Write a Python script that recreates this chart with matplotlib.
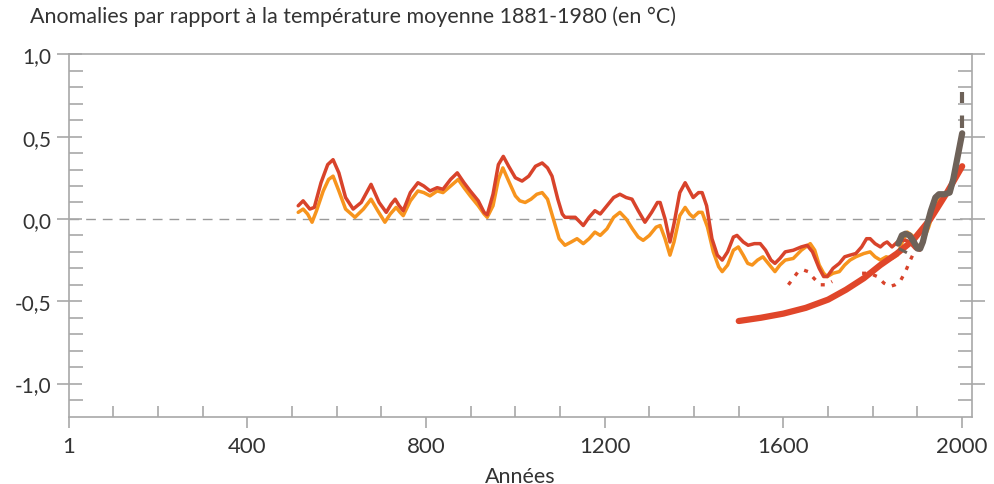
import matplotlib
matplotlib.use("Agg")
import matplotlib.pyplot as plt
import numpy as np

# ---- data (years, anomalies in °C) ----
red_years = [514, 525, 540, 550, 565, 580, 592, 605, 620, 637, 655, 677, 695, 711, 722, 731, 740, 749,
             765, 782, 795, 809, 825, 838, 855, 870, 885, 899, 917, 930, 937, 950, 962, 973, 985, 1000,
             1015, 1030, 1045, 1060, 1072, 1082, 1095, 1105, 1111, 1122, 1134, 1145, 1152, 1165, 1178,
             1190, 1205, 1220, 1234, 1248, 1261, 1275, 1290, 1305, 1318, 1324, 1335, 1346, 1355, 1368,
             1380, 1390, 1398, 1410, 1418, 1428, 1440, 1452, 1463, 1475, 1488, 1496, 1510, 1521, 1535,
             1548, 1560, 1572, 1581, 1592, 1604, 1622, 1640, 1653, 1665, 1680, 1690, 1698, 1711, 1725,
             1737, 1749, 1762, 1775, 1786, 1794, 1805, 1817, 1825, 1832, 1843, 1855, 1866, 1875, 1885,
             1895, 1905]
red_vals = [0.08, 0.11, 0.06, 0.07, 0.22, 0.33, 0.36, 0.28, 0.13, 0.06, 0.10, 0.21, 0.10, 0.04, 0.09, 0.12,
            0.08, 0.05, 0.16, 0.22, 0.20, 0.17, 0.19, 0.18, 0.24, 0.28, 0.22, 0.17, 0.11, 0.04, 0.025, 0.15,
            0.33, 0.38, 0.32, 0.25, 0.23, 0.26, 0.32, 0.34, 0.31, 0.26, 0.12, 0.03, 0.01, 0.01, 0.01, -0.02,
            -0.04, 0.01, 0.05, 0.03, 0.08, 0.13, 0.15, 0.13, 0.12, 0.05, -0.02, 0.04, 0.10, 0.10, 0.00,
            -0.14, -0.03, 0.16, 0.22, 0.17, 0.13, 0.16, 0.16, 0.08, -0.12, -0.22, -0.25, -0.20, -0.11,
            -0.10, -0.14, -0.16, -0.15, -0.15, -0.19, -0.25, -0.27, -0.24, -0.20, -0.19, -0.17, -0.16,
            -0.20, -0.30, -0.35, -0.35, -0.30, -0.27, -0.23, -0.22, -0.21, -0.17, -0.12, -0.12, -0.15,
            -0.17, -0.15, -0.14, -0.17, -0.14, -0.13, -0.13, -0.15, -0.18, -0.19]

orange_years = [514, 525, 535, 545, 555, 570, 582, 592, 605, 620, 641, 660, 677, 692, 708, 720, 733, 742,
                749, 765, 782, 795, 809, 825, 838, 855, 872, 885, 899, 917, 930, 937, 950, 962, 972, 985,
                1000, 1010, 1022, 1035, 1048, 1060, 1072, 1085, 1098, 1111, 1125, 1138, 1152, 1165, 1178,
                1190, 1205, 1220, 1234, 1248, 1262, 1275, 1286, 1300, 1315, 1324, 1335, 1346, 1355, 1368,
                1380, 1390, 1398, 1410, 1418, 1430, 1443, 1455, 1463, 1475, 1488, 1499, 1510, 1520, 1530,
                1542, 1554, 1566, 1581, 1592, 1604, 1622, 1640, 1660, 1670, 1680, 1690, 1698, 1711, 1725,
                1737, 1749, 1762, 1780, 1794, 1805, 1817, 1830, 1843, 1855, 1866, 1877, 1888, 1897, 1910,
                1925, 1940, 1950]
orange_vals = [0.04, 0.06, 0.03, -0.02, 0.05, 0.17, 0.24, 0.26, 0.17, 0.06, 0.01, 0.06, 0.12, 0.05, -0.02,
               0.03, 0.07, 0.04, 0.02, 0.11, 0.17, 0.16, 0.14, 0.17, 0.16, 0.20, 0.24, 0.19, 0.14, 0.08,
               0.03, 0.01, 0.08, 0.24, 0.31, 0.23, 0.14, 0.11, 0.10, 0.12, 0.15, 0.16, 0.12, 0.00, -0.12,
               -0.16, -0.14, -0.12, -0.15, -0.12, -0.08, -0.10, -0.06, 0.01, 0.04, 0.00, -0.06, -0.11,
               -0.13, -0.10, -0.05, -0.04, -0.12, -0.22, -0.14, 0.02, 0.07, 0.03, 0.01, 0.04, 0.04, -0.05,
               -0.20, -0.29, -0.32, -0.28, -0.19, -0.17, -0.22, -0.27, -0.28, -0.25, -0.23, -0.27, -0.32,
               -0.28, -0.25, -0.24, -0.19, -0.15, -0.19, -0.28, -0.33, -0.35, -0.33, -0.32, -0.28, -0.25,
               -0.23, -0.21, -0.20, -0.23, -0.25, -0.23, -0.24, -0.22, -0.14, -0.08, -0.10, -0.17, -0.15,
               -0.05, 0.08, 0.12]

dotted_years = [1611, 1622, 1633, 1645, 1655, 1668, 1682, 1695, 1709, np.nan, 1776, 1793, 1810, 1825,
                1839, 1850, 1861, 1873, 1884, 1891]
dotted_vals = [-0.40, -0.36, -0.32, -0.31, -0.32, -0.36, -0.40, -0.40, -0.38, np.nan, -0.33, -0.33, -0.35,
               -0.39, -0.41, -0.40, -0.38, -0.32, -0.25, -0.21]

trend_years = [1500, 1550, 1600, 1650, 1700, 1740, 1780, 1817, 1854, 1890, 1929, 1966, 2000]
trend_vals = [-0.62, -0.60, -0.575, -0.54, -0.49, -0.43, -0.36, -0.28, -0.21, -0.13, 0.0, 0.16, 0.32]

gray_years = [1857, 1865, 1873, 1882, 1892, 1900, 1906, 1912, 1920, 1930, 1940, 1948, 1960, 1972, 1980,
              1990, 2000]
gray_vals = [-0.15, -0.10, -0.09, -0.10, -0.14, -0.18, -0.18, -0.14, -0.05, 0.05, 0.13, 0.15, 0.15, 0.16,
             0.24, 0.38, 0.52]
gray_dash_years = [2000, 2000]
gray_dash_vals = [0.55, 0.77]
gray_low_years = [1858, 1880]
gray_low_vals = [-0.18, -0.21]

y_ticks = [-1.0, -0.5, 0.0, 0.5, 1.0]
y_labels = ["-1,0", "-0,5", "0,0", "0,5", "1,0"]
x_ticks = [1, 400, 800, 1200, 1600, 2000]
x_labels = ["1", "400", "800", "1200", "1600", "2000"]

title = "Anomalies par rapport à la température moyenne 1881-1980 (en °C)"
xlabel = "Années"

# ---- style ----
plt.rcParams['font.family'] = ['Lato', 'DejaVu Sans']
axis_col = "#a8a8a8"
text_col = "#333333"
c_red = "#d8432b"
c_orange = "#f7941d"
c_trend = "#e0462a"
c_gray = "#6e6259"

fig = plt.figure(figsize=(9.94, 4.85), dpi=100)
ax = fig.add_axes([69/994, 1 - 417.5/485, (972-69)/994, (417.5-55.3)/485])

ax.axhline(0, color="#9a9a9a", lw=1.0, dashes=(7, 5), zorder=1)

kw_thin = dict(lw=2.5, solid_capstyle='round', solid_joinstyle='round')
ax.plot(orange_years, orange_vals, color=c_orange, zorder=3, **kw_thin)
ax.plot(red_years, red_vals, color=c_red, zorder=4, **kw_thin)
ax.plot(dotted_years, dotted_vals, color=c_red, lw=2.4, linestyle=(0, (1.2, 2.2)), zorder=4)
ax.plot(trend_years, trend_vals, color=c_trend, lw=4.5, zorder=5, solid_capstyle='round',
        solid_joinstyle='round')
ax.plot(gray_low_years, gray_low_vals, color=c_gray, lw=2.2, linestyle=(0, (3, 2)), zorder=5)
ax.plot(gray_years, gray_vals, color=c_gray, lw=4.5, zorder=6, solid_capstyle='round',
        solid_joinstyle='round')
ax.plot(gray_dash_years, gray_dash_vals, color=c_gray, lw=3.0, linestyle=(0, (3, 3)), zorder=6)

ax.set_xlim(1, 2022)
ax.set_ylim(-1.2, 1.0)

for s in ['left', 'right', 'bottom', 'top']:
    ax.spines[s].set_color(axis_col)
    ax.spines[s].set_linewidth(1.2)

ax.set_yticks(y_ticks)
ax.set_yticklabels(y_labels)
ax.set_yticks(np.arange(-1.1, 1.0, 0.1), minor=True)
ax.set_xticks(x_ticks)
ax.set_xticklabels(x_labels)
ax.set_xticks([y for y in range(100, 2000, 100) if y % 400 != 0], minor=True)

ax.tick_params(axis='y', which='major', direction='inout', length=18, width=1.2, color=axis_col,
               left=True, right=True, labelsize=15, labelcolor=text_col, pad=4)
ax.tick_params(axis='y', which='minor', direction='in', length=10, width=1.2, color=axis_col,
               left=True, right=True)
ax.tick_params(axis='x', which='major', direction='out', length=8, width=1.2, color=axis_col,
               labelsize=16, labelcolor=text_col, pad=6, top=False)
ax.tick_params(axis='x', which='minor', direction='in', length=8, width=1.2, color=axis_col, top=False)

ax.set_xlabel(xlabel, fontsize=15.5, color=text_col, labelpad=7)
fig.text(30/994, 1 - 17/485, title, fontsize=15.5, color=text_col, va='center', ha='left')

fig.savefig("out.png", dpi=100)
